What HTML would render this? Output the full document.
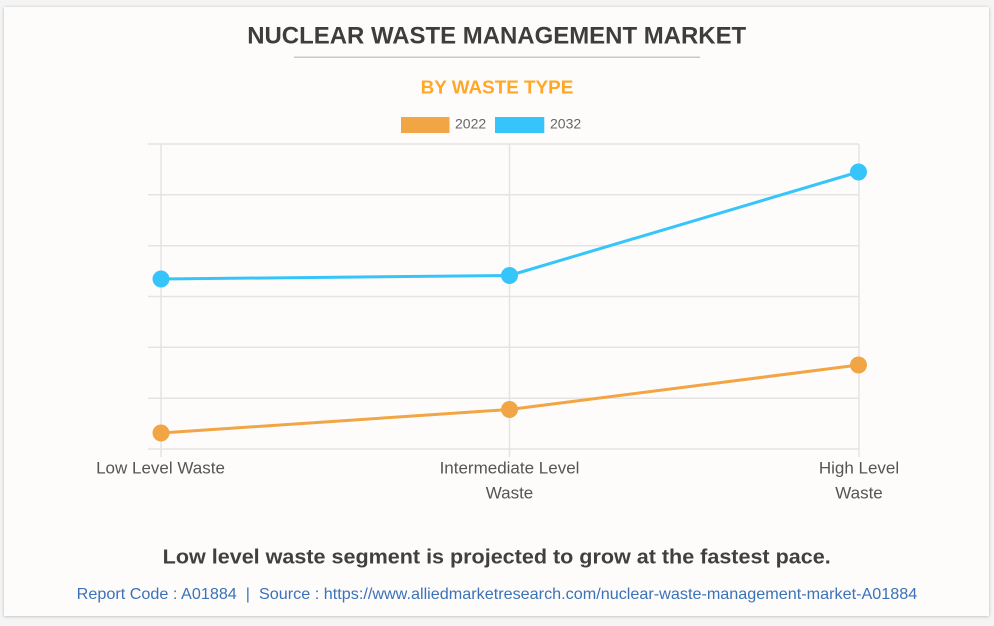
<!DOCTYPE html>
<html>
<head>
<meta charset="utf-8">
<style>
  html, body { margin:0; padding:0; background:#f4f4f4; }
  body { width:994px; height:626px; overflow:hidden; }
  svg { display:block; }
  text { font-family: "Liberation Sans", Arial, sans-serif; }
</style>
</head>
<body>
<svg width="994" height="626" viewBox="0 0 994 626" xmlns="http://www.w3.org/2000/svg">
  <defs>
    <filter id="sh" x="-2%" y="-2%" width="104%" height="104%">
      <feGaussianBlur in="SourceAlpha" stdDeviation="1.5"/>
      <feOffset dx="0" dy="0.5" result="b"/>
      <feComponentTransfer><feFuncA type="linear" slope="0.25"/></feComponentTransfer>
      <feMerge><feMergeNode/><feMergeNode in="SourceGraphic"/></feMerge>
    </filter>
  </defs>
  <rect x="0" y="0" width="994" height="626" fill="#f4f4f4"/>
  <rect x="4" y="7" width="985" height="609" fill="#fdfcfb" filter="url(#sh)"/>

  <!-- Title -->
  <text x="496.7" y="43.3" text-anchor="middle" font-size="24" font-weight="bold" fill="#3d3d3d" textLength="499" lengthAdjust="spacingAndGlyphs">NUCLEAR WASTE MANAGEMENT MARKET</text>
  <line x1="294" y1="57.3" x2="700" y2="57.3" stroke="#c9c9c9" stroke-width="1.5"/>
  <text x="497" y="93.3" text-anchor="middle" font-size="18.5" font-weight="bold" fill="#ffa726" textLength="152.6" lengthAdjust="spacingAndGlyphs">BY WASTE TYPE</text>

  <!-- Legend -->
  <rect x="401" y="117" width="48.5" height="16" fill="#f1a544"/>
  <text x="455" y="128.5" font-size="14" fill="#666">2022</text>
  <rect x="495" y="117" width="49.3" height="16" fill="#36c5fb"/>
  <text x="550" y="128.5" font-size="14" fill="#666">2032</text>

  <!-- Grid -->
  <g stroke="#e4e4e4" stroke-width="1.5">
    <line x1="148" y1="144" x2="859" y2="144"/>
    <line x1="148" y1="194.8" x2="859" y2="194.8"/>
    <line x1="148" y1="245.7" x2="859" y2="245.7"/>
    <line x1="148" y1="296.5" x2="859" y2="296.5"/>
    <line x1="148" y1="347.3" x2="859" y2="347.3"/>
    <line x1="148" y1="398.2" x2="859" y2="398.2"/>
    <line x1="148" y1="449" x2="859" y2="449"/>
    <line x1="161" y1="144" x2="161" y2="457"/>
    <line x1="509.5" y1="144" x2="509.5" y2="457"/>
    <line x1="859" y1="144" x2="859" y2="457"/>
  </g>

  <!-- Series 2032 -->
  <polyline points="161,279 509.5,275.5 858.5,172" fill="none" stroke="#36c5fb" stroke-width="3" stroke-linejoin="round"/>
  <g fill="#36c5fb">
    <circle cx="161" cy="279" r="8.5"/>
    <circle cx="509.5" cy="275.5" r="8.5"/>
    <circle cx="858.5" cy="172" r="8.5"/>
  </g>

  <!-- Series 2022 -->
  <polyline points="161,433 509.5,409.5 858.5,365" fill="none" stroke="#f1a544" stroke-width="3" stroke-linejoin="round"/>
  <g fill="#f1a544">
    <circle cx="161" cy="433" r="8.5"/>
    <circle cx="509.5" cy="409.5" r="8.5"/>
    <circle cx="858.5" cy="365" r="8.5"/>
  </g>

  <!-- X labels -->
  <g font-size="17" fill="#555" text-anchor="middle">
    <text x="160.5" y="473.5">Low Level Waste</text>
    <text x="509.5" y="473.5">Intermediate Level</text>
    <text x="509.5" y="498.5">Waste</text>
    <text x="859" y="473.5">High Level</text>
    <text x="859" y="498.5">Waste</text>
  </g>

  <!-- Footer -->
  <text x="496.7" y="563.3" text-anchor="middle" font-size="20" font-weight="bold" fill="#404040" textLength="668" lengthAdjust="spacingAndGlyphs">Low level waste segment is projected to grow at the fastest pace.</text>
  <text x="497" y="599" text-anchor="middle" font-size="16" fill="#3b72b8" textLength="840.6" lengthAdjust="spacingAndGlyphs" xml:space="preserve">Report Code : A01884  |  Source : https://www.alliedmarketresearch.com/nuclear-waste-management-market-A01884</text>
</svg>
</body>
</html>
